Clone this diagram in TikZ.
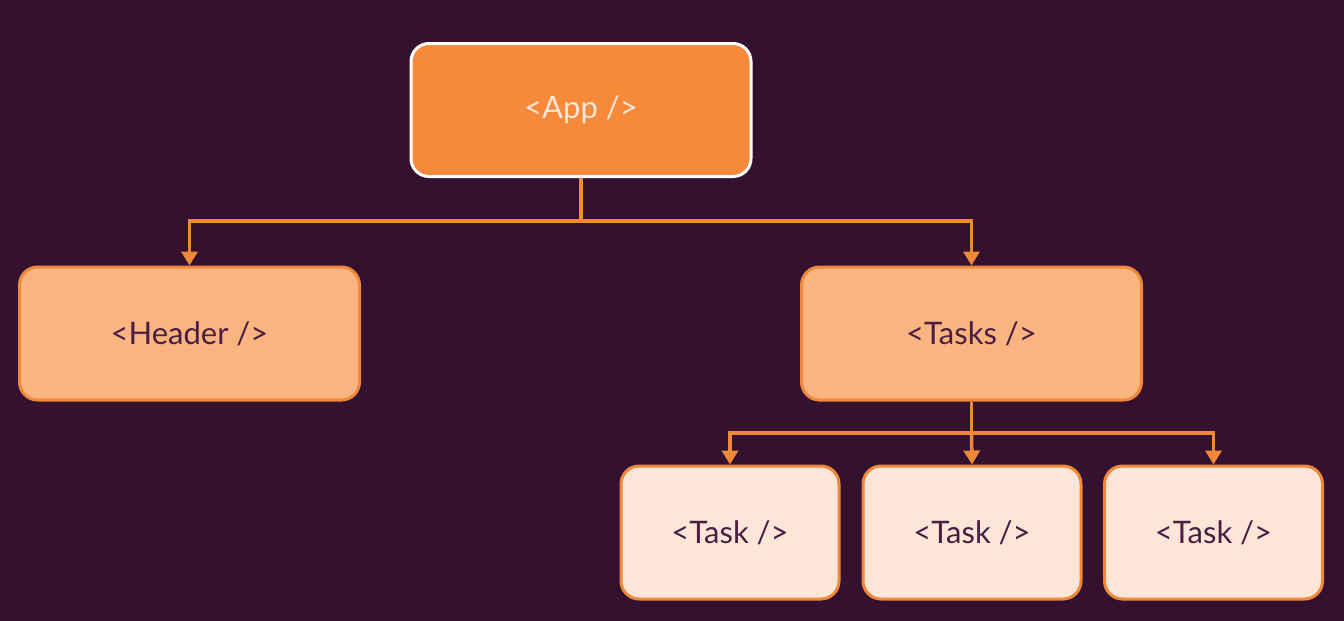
\documentclass[tikz,border=0pt]{standalone}
\usepackage{fontspec}
\setmainfont{Lato}
\usetikzlibrary{arrows.meta}
\definecolor{bg}{HTML}{33112F}
\definecolor{appfill}{HTML}{F7893A}
\definecolor{midfill}{HTML}{F9B47F}
\definecolor{lightfill}{HTML}{FDE6D7}
\definecolor{edge}{HTML}{F0883A}
\definecolor{darktext}{HTML}{4A1E44}
\definecolor{lighttext}{HTML}{FDE6D7}
\tikzset{
  box/.style={rounded corners=18pt, line width=3pt, draw=edge, align=center,
    font=\fontsize{31}{36}\selectfont, text=darktext, inner sep=0pt},
  appbox/.style={box, fill=appfill, draw=white, text=lighttext, minimum width=340pt, minimum height=133pt},
  midbox/.style={box, fill=midfill, minimum width=340pt, minimum height=133pt},
  leafbox/.style={box, fill=lightfill, minimum width=218pt, minimum height=133pt},
  conn/.style={draw=edge, line width=3.5pt},
  arr/.style={conn, -{Triangle[width=16pt,length=14pt]}}
}
\begin{document}
\begin{tikzpicture}[x=1pt,y=-1pt]
\fill[bg] (0,0) rectangle (1344,621);
\useasboundingbox (0,0) rectangle (1344,621);
\node[appbox] (app) at (581,110) {<App />};
\node[midbox] (header) at (189.5,333.5) {<Header />};
\node[midbox] (tasks) at (971.5,333.5) {<Tasks />};
\node[leafbox] (t1) at (730,532.5) {<Task />};
\node[leafbox] (t2) at (972,532.5) {<Task />};
\node[leafbox] (t3) at (1213.5,532.5) {<Task />};
\coordinate (j1) at (581,221);
\coordinate (j2) at (971.5,433);
\draw[conn] (app.south) -- (j1);
\draw[arr] (j1) -| (header.north);
\draw[arr] (j1) -| (tasks.north);
\draw[conn] (tasks.south) -- (j2);
\draw[arr] (j2) -| (t1.north);
\draw[arr] (j2) -- (t2.north);
\draw[arr] (j2) -| (t3.north);
\end{tikzpicture}
\end{document}
